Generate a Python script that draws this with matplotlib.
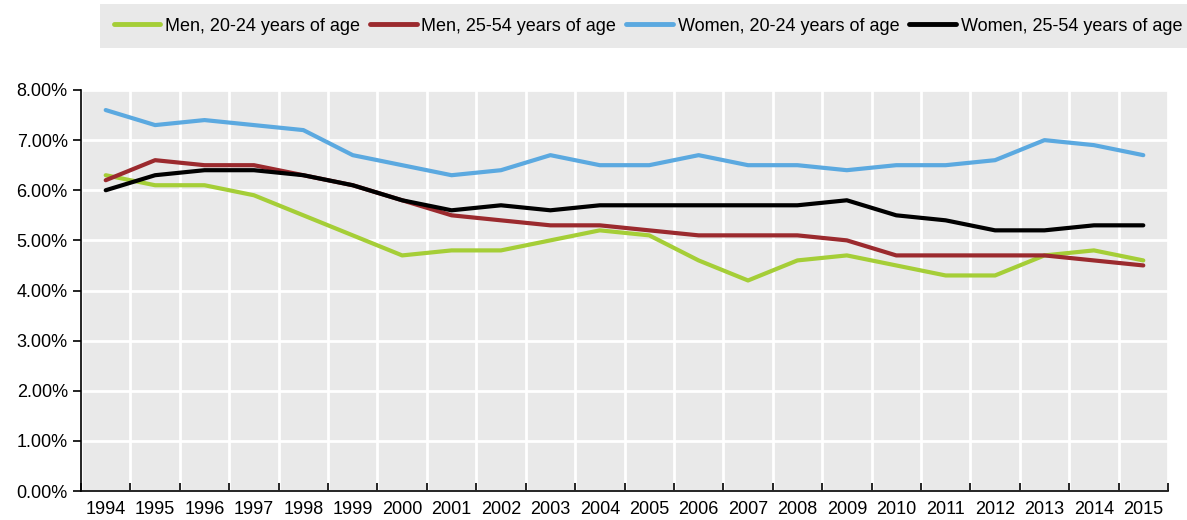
import matplotlib.pyplot as plt
import numpy as np
from matplotlib.ticker import FuncFormatter

plt.rcParams['font.family'] = ['Liberation Sans Narrow', 'Liberation Sans', 'DejaVu Sans']

years = [str(y) for y in range(1994, 2016)]

men_20_24 = [6.3, 6.1, 6.1, 5.9, 5.5, 5.1, 4.7, 4.8, 4.8, 5.0, 5.2,
             5.1, 4.6, 4.2, 4.6, 4.7, 4.5, 4.3, 4.3, 4.7, 4.8, 4.6]
men_25_54 = [6.2, 6.6, 6.5, 6.5, 6.3, 6.1, 5.8, 5.5, 5.4, 5.3, 5.3,
             5.2, 5.1, 5.1, 5.1, 5.0, 4.7, 4.7, 4.7, 4.7, 4.6, 4.5]
women_20_24 = [7.6, 7.3, 7.4, 7.3, 7.2, 6.7, 6.5, 6.3, 6.4, 6.7, 6.5,
               6.5, 6.7, 6.5, 6.5, 6.4, 6.5, 6.5, 6.6, 7.0, 6.9, 6.7]
women_25_54 = [6.0, 6.3, 6.4, 6.4, 6.3, 6.1, 5.8, 5.6, 5.7, 5.6, 5.7,
               5.7, 5.7, 5.7, 5.7, 5.8, 5.5, 5.4, 5.2, 5.2, 5.3, 5.3]

series = [
    ("Men, 20-24 years of age", men_20_24, "#A5CE37"),
    ("Men, 25-54 years of age", men_25_54, "#9B2A2E"),
    ("Women, 20-24 years of age", women_20_24, "#5BA9E0"),
    ("Women, 25-54 years of age", women_25_54, "#000000"),
]

fig = plt.figure(figsize=(11.87, 5.2), dpi=100)
ax = fig.add_axes([81 / 1187, 29 / 520, 1087 / 1187, 401 / 520])
ax.set_facecolor("#E9E9E9")

x = np.arange(len(years))
for label, vals, col in series:
    ax.plot(x, vals, color=col, lw=3, label=label, solid_capstyle="round",
            solid_joinstyle="round")

ax.set_xlim(-0.5, len(years) - 0.5)
ax.set_ylim(0, 8)
ax.set_yticks(np.arange(0, 9, 1))
ax.yaxis.set_major_formatter(FuncFormatter(lambda v, p: f"{v:.2f}%"))

# category labels sit between the boundary ticks
ax.set_xticks(x)
ax.set_xticklabels(years)
ax.set_xticks(np.arange(-0.5, len(years), 1), minor=True)
ax.tick_params(axis="x", which="major", length=0, labelsize=13, pad=7)
ax.tick_params(axis="x", which="minor", direction="in", length=6, width=1.2)
ax.tick_params(axis="y", direction="out", length=6, width=1.2, labelsize=13)

ax.grid(True, which="major", axis="y", color="white", lw=2)
ax.grid(True, which="minor", axis="x", color="white", lw=2)
ax.set_axisbelow(True)

for side in ["top", "right"]:
    ax.spines[side].set_visible(False)
for side in ["left", "bottom"]:
    ax.spines[side].set_linewidth(1.2)

leg = fig.legend(loc="upper left", bbox_to_anchor=(100 / 1187, 1 - 4 / 520),
                 ncol=4, frameon=True, fancybox=False, fontsize=13,
                 handlelength=2.6, columnspacing=0.55, handletextpad=0.25,
                 borderpad=0.75, borderaxespad=0)
leg.get_frame().set_facecolor("#E9E9E9")
leg.get_frame().set_edgecolor("none")
leg.get_frame().set_alpha(1)
for line in leg.get_lines():
    line.set_linewidth(3.5)

fig.savefig("out.png", dpi=100)
